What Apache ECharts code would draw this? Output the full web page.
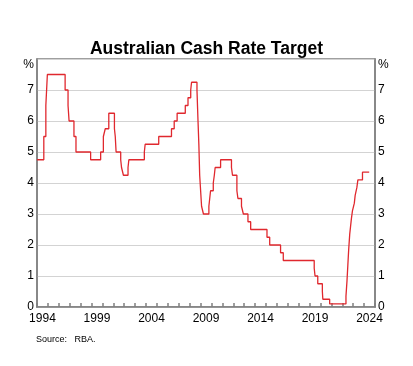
<!DOCTYPE html>
<html>
<head>
<meta charset="utf-8">
<script src="https://cdn.jsdelivr.net/npm/echarts@6/dist/echarts.min.js"></script>
<style>html,body{margin:0;padding:0;background:#fff}#c{width:413px;height:366px}</style>
</head>
<body>
<div id="c"></div>
<script>
// Cash rate target: date of change and new rate (%)
const changeDates = [
 '1994-01-01','1994-08-17','1994-10-24','1994-12-14','1996-07-31','1996-11-06','1996-12-11',
 '1997-05-23','1997-07-30','1998-12-02','1999-11-03','2000-02-02','2000-04-05','2000-08-02',
 '2001-02-07','2001-03-07','2001-04-04','2001-09-05','2001-10-03','2001-12-05','2002-05-08',
 '2002-06-05','2003-11-05','2003-12-03','2005-03-02','2006-05-03','2006-08-02','2006-11-08',
 '2007-08-08','2007-11-07','2008-02-06','2008-03-05','2008-09-03','2008-10-08','2008-11-05',
 '2008-12-03','2009-02-04','2009-04-08','2009-10-07','2009-11-04','2009-12-02','2010-03-03',
 '2010-04-07','2010-05-05','2010-11-03','2011-11-02','2011-12-07','2012-05-02','2012-06-06',
 '2012-10-03','2012-12-05','2013-05-08','2013-08-07','2015-02-04','2015-05-06','2016-05-04',
 '2016-08-03','2019-06-05','2019-07-03','2019-10-02','2020-03-04','2020-03-20','2020-11-04',
 '2022-05-04','2022-06-08','2022-07-06','2022-08-03','2022-09-07','2022-10-05','2022-11-02',
 '2022-12-07','2023-02-08','2023-03-08','2023-05-03','2023-06-07','2023-11-08','2024-06-20'
];
const cashRate = [
 4.75,5.50,6.50,7.50,7.00,6.50,6.00,
 5.50,5.00,4.75,5.00,5.50,5.75,6.25,
 5.75,5.50,5.00,4.75,4.50,4.25,4.50,
 4.75,5.00,5.25,5.50,5.75,6.00,6.25,
 6.50,6.75,7.00,7.25,7.00,6.00,5.25,
 4.25,3.25,3.00,3.25,3.50,3.75,4.00,
 4.25,4.50,4.75,4.50,4.25,3.75,3.50,
 3.25,3.00,2.75,2.50,2.25,2.00,1.75,
 1.50,1.25,1.00,0.75,0.50,0.25,0.10,
 0.35,0.85,1.35,1.85,2.35,2.60,2.85,
 3.10,3.35,3.60,3.85,4.10,4.35,4.35
];
const years = [];
for (let y = 1994; y <= 2024; y++) years.push(String(y));
const yTicks = [0,1,2,3,4,5,6,7,8];

function decYear(s){
  const d = new Date(s + 'T00:00:00Z');
  const y = d.getUTCFullYear();
  const start = Date.UTC(y,0,1), end = Date.UTC(y+1,0,1);
  return y + (d.getTime()-start)/(end-start);
}
const seriesData = changeDates.map((d,i)=>[decYear(d), cashRate[i]]);

const axisGrey = '#808080';
const font = 'Liberation Sans, Arial, sans-serif';
const yLabel = {
  fontSize: 12, color: '#000', fontFamily: font, margin: 3,
  formatter: v => v === 8 ? '{p|%}' : String(v),
  rich: { p: { fontSize: 12, color: '#000', fontFamily: font, padding: [11,0,0,0] } }
};

const chart = echarts.init(document.getElementById('c'), null, {renderer:'canvas'});
chart.setOption({
  animation: false,
  backgroundColor: '#fff',
  title: [
    { text: 'Australian Cash Rate Target', left: 'center', top: 35,
      textStyle: { fontSize: 17.5, fontWeight: 'bold', color: '#000', fontFamily: font } },
    { text: 'Source:   RBA.', left: 36, top: 335, padding: 0,
      textStyle: { fontSize: 9, fontWeight: 'normal', color: '#000', fontFamily: font } }
  ],
  grid: { left: 37, right: 38, top: 59, bottom: 59, show: true, borderColor: axisGrey, borderWidth: 1.5, backgroundColor: 'transparent' },
  xAxis: [
    { type: 'category', data: years, boundaryGap: true, position: 'bottom',
      axisLine: { show: true, lineStyle: { color: axisGrey, width: 1.5 } },
      axisTick: { show: true, inside: true, interval: 0, length: 4, lineStyle: { color: axisGrey, width: 1.5 } },
      axisLabel: { interval: 4, fontSize: 12, color: '#000', fontFamily: font, margin: 6 },
      splitLine: { show: false } },
    { type: 'value', min: 1994, max: 2025, show: false }
  ],
  yAxis: [
    { type: 'value', min: 0, max: 8, interval: 1, position: 'left',
      axisLine: { show: true, lineStyle: { color: axisGrey, width: 1.5 } },
      axisTick: { show: false },
      axisLabel: yLabel,
      splitLine: { show: true, lineStyle: { color: '#d3d3d3', width: 1 } } },
    { type: 'value', min: 0, max: 8, interval: 1, position: 'right',
      axisLine: { show: true, lineStyle: { color: axisGrey, width: 1.5 } },
      axisTick: { show: false },
      axisLabel: yLabel,
      splitLine: { show: false } }
  ],
  series: [{
    type: 'line', xAxisIndex: 1, yAxisIndex: 0, step: 'end',
    data: seriesData, symbol: 'none',
    lineStyle: { color: '#e0282e', width: 1.3 }
  }]
});
</script>
</body>
</html>
